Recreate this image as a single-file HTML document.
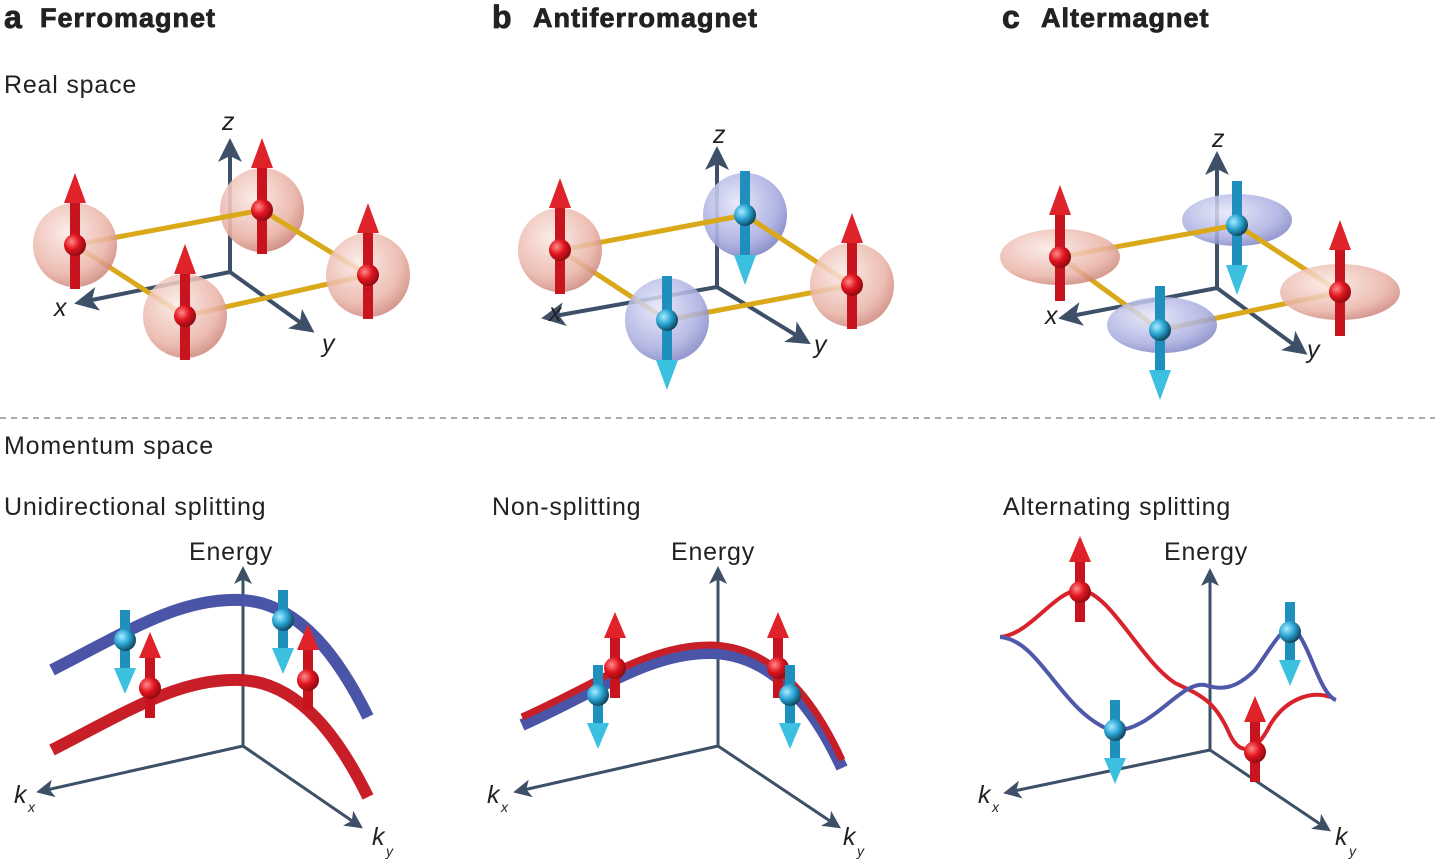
<!DOCTYPE html>
<html><head><meta charset="utf-8"><style>
html,body{margin:0;padding:0;background:#fff;}
svg{display:block;font-family:"Liberation Sans",sans-serif;}
</style></head><body>
<svg width="1435" height="859" viewBox="0 0 1435 859" xmlns="http://www.w3.org/2000/svg">
<defs>
<radialGradient id="rs" cx="0.4" cy="0.35" r="0.7"><stop offset="0" stop-color="#fbe9e4"/><stop offset="0.7" stop-color="#e9b2a6"/><stop offset="1" stop-color="#c97f74"/></radialGradient>
<radialGradient id="bs" cx="0.4" cy="0.35" r="0.7"><stop offset="0" stop-color="#e4e6f8"/><stop offset="0.7" stop-color="#a8acdf"/><stop offset="1" stop-color="#7a7fc0"/></radialGradient>
<radialGradient id="rb" cx="0.35" cy="0.35" r="0.7"><stop offset="0" stop-color="#ff8a8a"/><stop offset="0.5" stop-color="#e0141e"/><stop offset="1" stop-color="#8a0a10"/></radialGradient>
<radialGradient id="bb" cx="0.35" cy="0.35" r="0.7"><stop offset="0" stop-color="#a8ecff"/><stop offset="0.5" stop-color="#2aa5d4"/><stop offset="1" stop-color="#0c3e55"/></radialGradient>
<marker id="ah" markerWidth="6" markerHeight="6" refX="4" refY="3" orient="auto" markerUnits="strokeWidth"><path d="M0,0 L6,3 L0,6 L1.5,3 z" fill="#3d5068"/></marker>
<g id="up"><rect x="-5" y="-42" width="10" height="86" fill="#c8141e"/><polygon points="-11,-42 11,-42 0,-72" fill="#e0222a"/><circle r="11" fill="url(#rb)"/></g>
<g id="dn"><rect x="-5" y="-44" width="10" height="84" fill="#1f8fbd"/><polygon points="-11,40 11,40 0,70" fill="#3cc0e0"/><circle r="11" fill="url(#bb)"/></g>
<g id="up2"><rect x="-5" y="-30" width="10" height="60" fill="#c8141e"/><polygon points="-11,-30 11,-30 0,-56" fill="#e0222a"/><circle r="11" fill="url(#rb)"/></g>
<g id="dn2"><rect x="-5" y="-30" width="10" height="60" fill="#1f8fbd"/><polygon points="-11,28 11,28 0,54" fill="#3cc0e0"/><circle r="11" fill="url(#bb)"/></g>
</defs>

<!-- headings -->
<g font-weight="900" fill="#222" stroke="#222" stroke-width="0.8">
<text x="4" y="28" font-size="32">a</text>
<text x="40" y="27" font-size="27" letter-spacing="1">Ferromagnet</text>
<text x="492" y="28" font-size="32">b</text>
<text x="533" y="27" font-size="27" letter-spacing="1">Antiferromagnet</text>
<text x="1002" y="28" font-size="32">c</text>
<text x="1041" y="27" font-size="27" letter-spacing="1">Altermagnet</text>
</g>
<g font-size="25" fill="#222" letter-spacing="0.8">
<text x="4" y="93">Real space</text>
<text x="4" y="454">Momentum space</text>
<text x="4" y="515">Unidirectional splitting</text>
<text x="492" y="515">Non-splitting</text>
<text x="1003" y="515">Alternating splitting</text>
<text x="189" y="560">Energy</text><text x="671" y="560">Energy</text><text x="1164" y="560">Energy</text>
</g>
<line x1="0" y1="418" x2="1435" y2="418" stroke="#777" stroke-width="1.3" stroke-dasharray="6,5"/>

<g stroke="#3d5068" stroke-width="4" fill="none" marker-end="url(#ah)">
<line x1="230" y1="272" x2="230" y2="146"/><line x1="230" y1="272" x2="82" y2="302"/><line x1="230" y1="272" x2="308" y2="328"/>
<line x1="717" y1="287" x2="717" y2="154"/><line x1="717" y1="287" x2="549" y2="317"/><line x1="717" y1="287" x2="804" y2="340"/>
<line x1="1217" y1="288" x2="1217" y2="159"/><line x1="1217" y1="288" x2="1066" y2="317"/><line x1="1217" y1="288" x2="1301" y2="350"/>
</g>
<g stroke="#3d5068" stroke-width="3" fill="none" marker-end="url(#ah)">
<line x1="243" y1="746" x2="243" y2="572"/><line x1="243" y1="746" x2="42" y2="791"/><line x1="243" y1="746" x2="358" y2="825"/>
<line x1="718" y1="746" x2="718" y2="572"/><line x1="718" y1="746" x2="519" y2="791"/><line x1="718" y1="746" x2="836" y2="825"/>
<line x1="1210" y1="750" x2="1210" y2="574"/><line x1="1210" y1="750" x2="1009" y2="792"/><line x1="1210" y1="750" x2="1326" y2="828"/>
</g>
<g font-size="25" font-style="italic" fill="#222">
<text x="222" y="130">z</text><text x="54" y="316">x</text><text x="322" y="352">y</text>
<text x="713" y="143">z</text><text x="549" y="321">x</text><text x="814" y="353">y</text>
<text x="1212" y="147">z</text><text x="1045" y="324">x</text><text x="1307" y="358">y</text>
<text x="14" y="803">k</text><text x="28" y="812" font-size="14">x</text>
<text x="372" y="845">k</text><text x="386" y="856" font-size="14">y</text>
<text x="487" y="803">k</text><text x="501" y="812" font-size="14">x</text>
<text x="843" y="845">k</text><text x="857" y="856" font-size="14">y</text>
<text x="978" y="803">k</text><text x="992" y="812" font-size="14">x</text>
<text x="1335" y="845">k</text><text x="1349" y="856" font-size="14">y</text>
</g>

<!-- panel a real space -->
<circle cx="262" cy="210" r="42" fill="url(#rs)" opacity="0.9"/>
<g stroke="#d9a91a" stroke-width="5"><line x1="75" y1="245" x2="262" y2="210"/><line x1="262" y1="210" x2="368" y2="275"/><line x1="75" y1="245" x2="185" y2="316"/><line x1="185" y1="316" x2="368" y2="275"/></g>
<circle cx="75" cy="245" r="42" fill="url(#rs)" opacity="0.85"/>
<circle cx="368" cy="275" r="42" fill="url(#rs)" opacity="0.85"/>
<circle cx="185" cy="316" r="42" fill="url(#rs)" opacity="0.85"/>
<use href="#up" x="262" y="210"/><use href="#up" x="75" y="245"/><use href="#up" x="368" y="275"/><use href="#up" x="185" y="316"/>

<!-- panel b real space -->
<circle cx="745" cy="215" r="42" fill="url(#bs)" opacity="0.9"/>
<g stroke="#d9a91a" stroke-width="5"><line x1="560" y1="250" x2="745" y2="215"/><line x1="745" y1="215" x2="852" y2="285"/><line x1="560" y1="250" x2="667" y2="320"/><line x1="667" y1="320" x2="852" y2="285"/></g>
<circle cx="560" cy="250" r="42" fill="url(#rs)" opacity="0.85"/>
<circle cx="852" cy="285" r="42" fill="url(#rs)" opacity="0.85"/>
<circle cx="667" cy="320" r="42" fill="url(#bs)" opacity="0.85"/>
<use href="#dn" x="745" y="215"/><use href="#up" x="560" y="250"/><use href="#up" x="852" y="285"/><use href="#dn" x="667" y="320"/>

<!-- panel c real space -->
<ellipse cx="1237" cy="220" rx="55" ry="26" fill="url(#bs)" opacity="0.85"/>
<g stroke="#d9a91a" stroke-width="5"><line x1="1060" y1="257" x2="1237" y2="225"/><line x1="1237" y1="225" x2="1340" y2="292"/><line x1="1060" y1="257" x2="1160" y2="330"/><line x1="1160" y1="330" x2="1340" y2="292"/></g>
<ellipse cx="1060" cy="257" rx="60" ry="28" fill="url(#rs)" opacity="0.85"/>
<ellipse cx="1340" cy="292" rx="60" ry="28" fill="url(#rs)" opacity="0.85"/>
<ellipse cx="1162" cy="325" rx="55" ry="28" fill="url(#bs)" opacity="0.85"/>
<use href="#dn" x="1237" y="225"/><use href="#up" x="1060" y="257"/><use href="#up" x="1340" y="292"/><use href="#dn" x="1160" y="330"/>

<!-- momentum a -->
<path d="M52,670 C130,630 180,598 240,600 C300,602 340,660 368,717" stroke="#4a55a8" stroke-width="12" fill="none"/>
<path d="M52,750 C130,710 180,678 240,680 C300,682 340,740 368,797" stroke="#c81e28" stroke-width="12" fill="none"/>
<use href="#dn2" x="125" y="640"/><use href="#dn2" x="283" y="620"/><use href="#up2" x="150" y="688"/><use href="#up2" x="308" y="680"/>

<!-- momentum b -->
<path d="M522,725 C600,690 650,652 712,653 C780,655 820,720 842,768" stroke="#4a55a8" stroke-width="12" fill="none"/>
<path d="M522,717 C600,682 650,644 712,645 C780,647 820,712 842,760" stroke="#c81e28" stroke-width="7" fill="none"/>
<use href="#up2" x="615" y="668"/><use href="#up2" x="778" y="668"/><use href="#dn2" x="598" y="695"/><use href="#dn2" x="790" y="695"/>

<!-- momentum c -->
<path d="M1000,637 C1030,635 1055,590 1080,590 C1110,592 1140,660 1175,683 C1200,695 1215,700 1230,735 C1240,755 1255,755 1270,725 C1285,700 1310,690 1330,697" stroke="#d8232c" stroke-width="4" fill="none"/>
<path d="M1000,637 C1040,640 1060,710 1110,730 C1150,735 1180,680 1205,685 C1220,690 1235,690 1255,670 C1270,650 1285,620 1295,630 C1310,645 1320,695 1336,700" stroke="#5058aa" stroke-width="4" fill="none"/>
<use href="#up2" x="1080" y="592"/><use href="#dn2" x="1115" y="730"/><use href="#dn2" x="1290" y="632"/><use href="#up2" x="1255" y="752"/>
</svg>
</body></html>
